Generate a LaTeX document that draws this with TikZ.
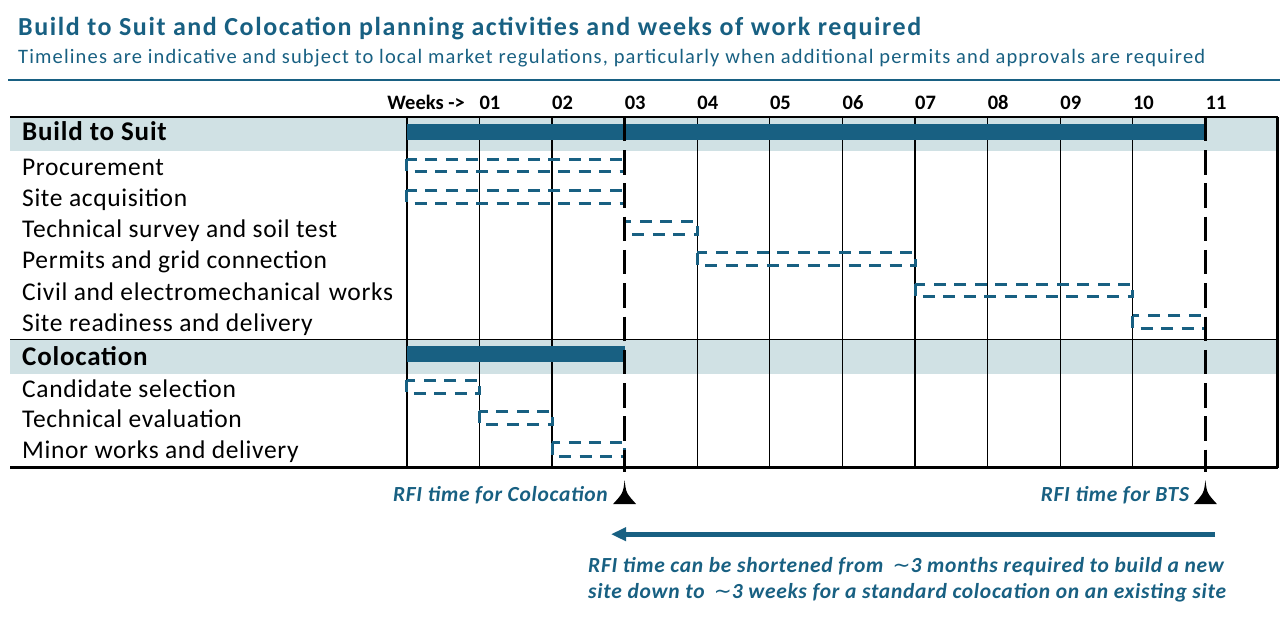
\documentclass[tikz,border=0pt]{standalone}
\usepackage{fontspec}
\setmainfont{Carlito}
\newfontfamily\symfont{DejaVu Sans}
\usepackage{xcolor}
\usetikzlibrary{
    arrows.meta,
    positioning,
    calc
}
\definecolor{ganttblue}{RGB}{24,96,130}
\definecolor{bandgray}{RGB}{208,225,228}
\tikzset{
    titletext/.style={
        anchor=base west,
        inner sep=0pt,
        text=ganttblue,
        font=\fontsize{26}{31}\selectfont\bfseries\addfontfeatures{LetterSpace=6.1}
    }
}
\tikzset{
    subtext/.style={
        anchor=base west,
        inner sep=0pt,
        text=ganttblue,
        font=\fontsize{20.5}{24}\selectfont\addfontfeatures{LetterSpace=5.6}
    }
}
\tikzset{
    weeklabel/.style={
        anchor=base west,
        inner sep=0pt,
        font=\fontsize{20.5}{24}\selectfont\bfseries
    }
}
\tikzset{
    grouplabel/.style={
        anchor=base west,
        inner sep=0pt,
        font=\fontsize{27}{31}\selectfont\bfseries\addfontfeatures{LetterSpace=3}
    }
}
\tikzset{
    tasklabel/.style={
        anchor=base west,
        inner sep=0pt,
        font=\fontsize{25.5}{31}\selectfont\addfontfeatures{LetterSpace=2.5}
    }
}
\tikzset{
    taskbox/.style={
        draw=ganttblue,
        line width=3pt,
        dash pattern=on 12pt off 8.5pt
    }
}
\tikzset{
    gridline/.style={
        draw=black,
        line width=1.2pt
    }
}
\tikzset{
    rfiline/.style={
        draw=black,
        line width=3pt,
        dash pattern=on 24.5pt off 8.8pt
    }
}
\tikzset{
    rfitext/.style={
        anchor=base east,
        inner sep=0pt,
        text=ganttblue,
        font=\fontsize{21.5}{26}\selectfont\bfseries\itshape\addfontfeatures{LetterSpace=3.3}
    }
}
\tikzset{
    notetext/.style={
        anchor=base west,
        inner sep=0pt,
        text=ganttblue,
        font=\fontsize{21.5}{26}\selectfont\bfseries\itshape\addfontfeatures{LetterSpace=3.4}
    }
}
\tikzset{
    shortarrow/.style={
        draw=ganttblue,
        line width=5pt,
        -{Triangle[length=15pt,width=13pt]}
    }
}

\begin{document}
\begin{tikzpicture}[
    x=1pt, y=-1pt,
    >=Latex
]
\useasboundingbox (0,0) rectangle (1280,619);

% ------------------------------------------------------------
% Heading
% ------------------------------------------------------------

\node[titletext] (title) at (18,35)
    {Build to Suit and Colocation planning activities and weeks of work required};
\node[subtext] (subtitle) at (18,63)
    {Timelines are indicative and subject to local market regulations, particularly when additional permits and approvals are required};
\draw[ganttblue, line width=2.5pt] (8,80) -- (1280,80);

% ------------------------------------------------------------
% Table frame, group bands and week grid
% ------------------------------------------------------------

\fill[bandgray] (10,118) rectangle (1278,151);
\fill[bandgray] (10,339.5) rectangle (1278,374);

\foreach \i in {1,2,4,5,6,7,8,9,10}
    \draw[gridline] ({406.8+72.6*\i},117) -- ({406.8+72.6*\i},467.5);
\draw[line width=2pt] (406.8,117) -- (406.8,467.5);
\draw[line width=2.5pt] (1277.7,117) -- (1277.7,467.5);
\draw[gridline] (10,339.5) -- (1278,339.5);
\draw[line width=2pt] (10,117) -- (1278,117);
\draw[line width=2.5pt] (10,467.5) -- (1278,467.5);

\node[weeklabel, anchor=base east] (weeks) at (465,109) {Weeks ->};
\foreach \w [count=\i] in {01,02,03,04,05,06,07,08,09,10,11}
    \node[weeklabel] (w\w) at ({406.8+72.6*\i},109) {\w};

% ------------------------------------------------------------
% Build to Suit
% ------------------------------------------------------------

\node[grouplabel] (bts) at (22,140.7) {Build to Suit};
\fill[ganttblue] (406.8,124) rectangle (1205,140);

\foreach \name/\txt/\a/\b [count=\k from 0] in {
    procure/Procurement/0/3,
    siteacq/Site acquisition/0/3,
    survey/Technical survey and soil test/3/4,
    permits/Permits and grid connection/4/7,
    civil/Civil and electromechanical\hspace{2pt} works/7/10,
    ready/Site readiness and delivery/10/11} {
    \node[tasklabel] (lbl\name) at (22,{175+31.3*\k}) {\txt};
    \draw[taskbox] ({406.8+72.6*\a},{159+31.3*\k}) rectangle ({406.8+72.6*\b},{171.7+31.3*\k});
}

% ------------------------------------------------------------
% Colocation
% ------------------------------------------------------------

\node[grouplabel] (coloc) at (22,365) {Colocation};
\fill[ganttblue] (406.8,346) rectangle (625,361.7);

\foreach \name/\txt/\a/\b [count=\k from 0] in {
    candidate/Candidate selection/0/1,
    evaluation/Technical evaluation/1/2,
    minor/Minor works and delivery/2/3} {
    \node[tasklabel] (lbl\name) at (22,{397+30.8*\k}) {\txt};
    \draw[taskbox] ({406.8+72.6*\a},{380+31.3*\k}) rectangle ({406.8+72.6*\b},{393.5+31.3*\k});
}

% ------------------------------------------------------------
% RFI milestones
% ------------------------------------------------------------

\foreach \i in {3,11} {
    \pgfmathsetmacro{\xm}{406.8+72.6*\i}
    \draw[rfiline] (\xm,116.7) -- (\xm,472);
    \fill (\xm,480) .. controls (\xm+1.5,493) .. (\xm+11.5,504)
        -- (\xm-11.5,504) .. controls (\xm-1.5,493) .. (\xm,480) -- cycle;
}
\node[rfitext] (rficoloc) at (608,501.7) {RFI time for Colocation};
\node[rfitext] (rfibts) at (1189.3,501.7) {RFI time for BTS};

% Shortening from BTS to colocation
\coordinate (arrowfrom) at (1215,534.2);
\coordinate (arrowto) at (611,534.2);
\draw[shortarrow] (arrowfrom) -- (arrowto);

\node[notetext] (note1) at (588,572)
    {RFI time can be shortened from \,{\symfont\mdseries\upshape ∼}3 months required to build a new};
\node[notetext] (note2) at (588,598)
    {site down to \,{\symfont\mdseries\upshape ∼}3 weeks for a standard colocation on an existing site};

\end{tikzpicture}
\end{document}
